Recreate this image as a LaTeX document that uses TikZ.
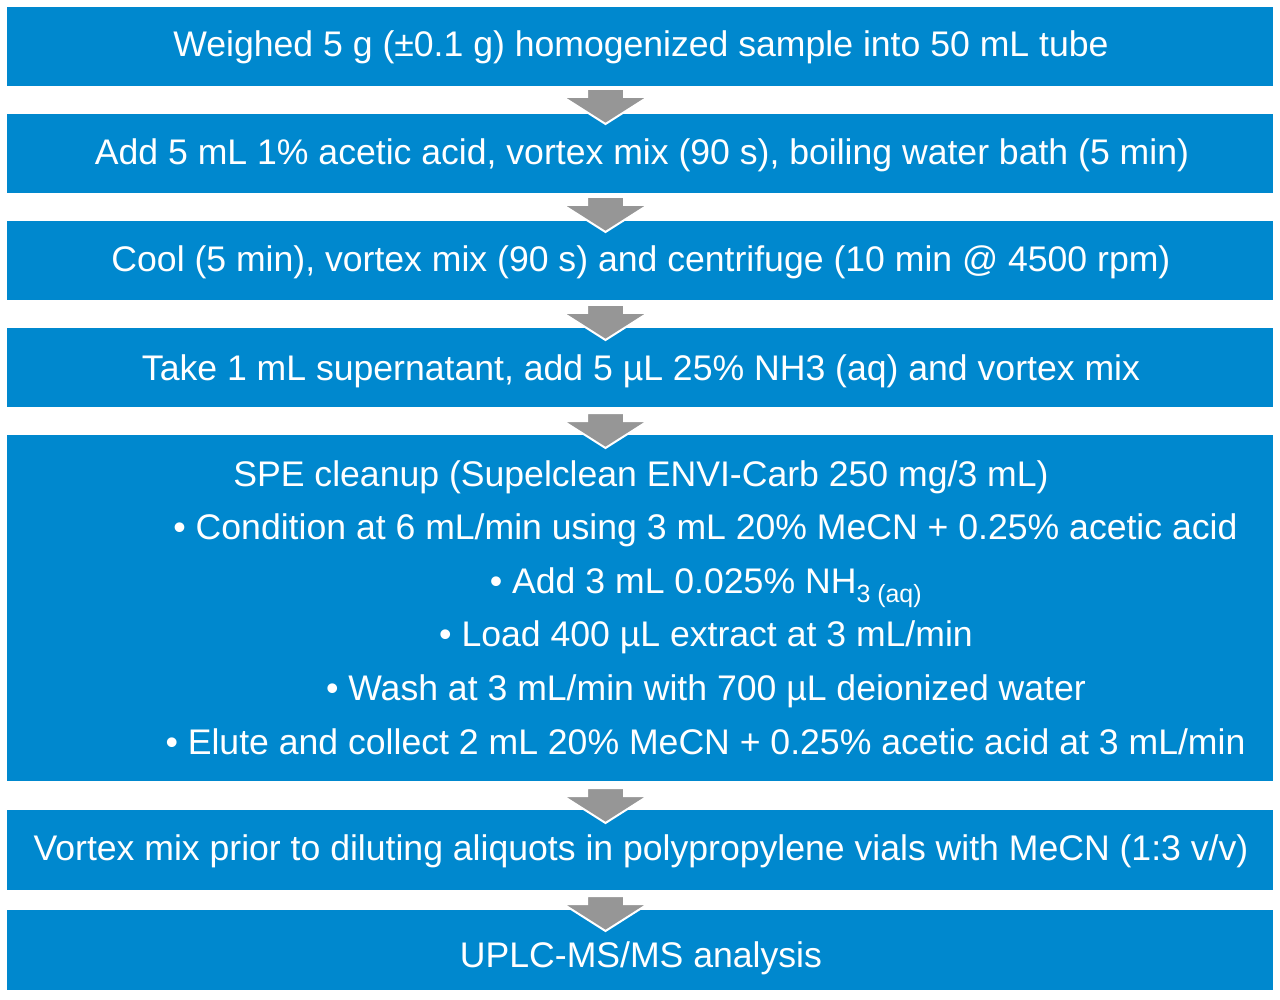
\documentclass[tikz,border=0pt]{standalone}
\usepackage{fontspec}
\setmainfont{Liberation Sans}
\usepackage{tikz}
\definecolor{step_blue}{RGB}{0, 136, 206}
\definecolor{step_grey}{RGB}{150, 150, 150}
\tikzstyle{box}=[rectangle,fill=step_blue,inner sep=0pt,minimum width=1266pt]
\tikzstyle{txt}=[text=white,inner sep=0pt,anchor=base,
  font=\fontsize{35.6}{42}\selectfont]
\tikzstyle{arr}=[fill=step_grey,draw=white,line width=2pt,line join=miter]

\begin{document}
\begin{tikzpicture}[x=1pt, y=-1pt]
    \useasboundingbox (0, 0) rectangle (1280, 1000);
    % boxes
    \node [style=box, minimum height=79pt] (1) at (640, 46.5) {};
    \node [style=box, minimum height=79pt] (2) at (640, 153.5) {};
    \node [style=box, minimum height=79pt] (3) at (640, 260.5) {};
    \node [style=box, minimum height=79pt] (4) at (640, 367.5) {};
    \node [style=box, minimum height=346pt] (5) at (640, 608) {};
    \node [style=box, minimum height=80pt] (6) at (640, 850) {};
    \node [style=box, minimum height=80pt] (7) at (640, 950) {};
    % texts
    \node [style=txt] (8) at (641, 57) {Weighed 5 g (±0.1 g) homogenized sample into 50 mL tube};
    \node [style=txt] (9) at (642, 165) {Add 5 mL 1\% acetic acid, vortex mix (90 s), boiling water bath (5 min)};
    \node [style=txt] (10) at (641, 272) {Cool (5 min), vortex mix (90 s) and centrifuge (10 min @ 4500 rpm)};
    \node [style=txt] (11) at (641, 380) {Take 1 mL supernatant, add 5 µL 25\% NH3 (aq) and vortex mix};
    \node [style=txt] (12) at (641, 486) {SPE cleanup (Supelclean ENVI-Carb 250 mg/3 mL)};
    \node [style=txt] (13) at (705.5, 539) {• Condition at 6 mL/min using 3 mL 20\% MeCN + 0.25\% acetic acid};
    \node [style=txt] (14) at (706, 593) {• Add 3 mL 0.025\% NH\textsubscript{3 (aq)}};
    \node [style=txt] (15) at (706, 646) {• Load 400 µL extract at 3 mL/min};
    \node [style=txt] (16) at (706, 700) {• Wash at 3 mL/min with 700 µL deionized water};
    \node [style=txt] (17) at (705.5, 754) {• Elute and collect 2 mL 20\% MeCN + 0.25\% acetic acid at 3 mL/min};
    \node [style=txt] (18) at (641, 860) {Vortex mix prior to diluting aliquots in polypropylene vials with MeCN (1:3 v/v)};
    \node [style=txt] (19) at (641, 967) {UPLC-MS/MS analysis};
    % arrows
    \coordinate (20) at (605.5, 89);
    \coordinate (21) at (605.5, 197);
    \coordinate (22) at (605.5, 305);
    \coordinate (23) at (605.5, 413);
    \coordinate (24) at (605.5, 788);
    \coordinate (25) at (605.5, 896);
    \draw [style=arr] (20) ++(-18.5, 0) -- ++(37, 0) -- ++(0, 8) -- ++(24, 0) -- ++(-42.5, 27) -- ++(-42.5, -27) -- ++(24, 0) -- cycle;
    \draw [style=arr] (21) ++(-18.5, 0) -- ++(37, 0) -- ++(0, 8) -- ++(24, 0) -- ++(-42.5, 27) -- ++(-42.5, -27) -- ++(24, 0) -- cycle;
    \draw [style=arr] (22) ++(-18.5, 0) -- ++(37, 0) -- ++(0, 8) -- ++(24, 0) -- ++(-42.5, 27) -- ++(-42.5, -27) -- ++(24, 0) -- cycle;
    \draw [style=arr] (23) ++(-18.5, 0) -- ++(37, 0) -- ++(0, 8) -- ++(24, 0) -- ++(-42.5, 27) -- ++(-42.5, -27) -- ++(24, 0) -- cycle;
    \draw [style=arr] (24) ++(-18.5, 0) -- ++(37, 0) -- ++(0, 8) -- ++(24, 0) -- ++(-42.5, 27) -- ++(-42.5, -27) -- ++(24, 0) -- cycle;
    \draw [style=arr] (25) ++(-18.5, 0) -- ++(37, 0) -- ++(0, 8) -- ++(24, 0) -- ++(-42.5, 27) -- ++(-42.5, -27) -- ++(24, 0) -- cycle;
\end{tikzpicture}
\end{document}
